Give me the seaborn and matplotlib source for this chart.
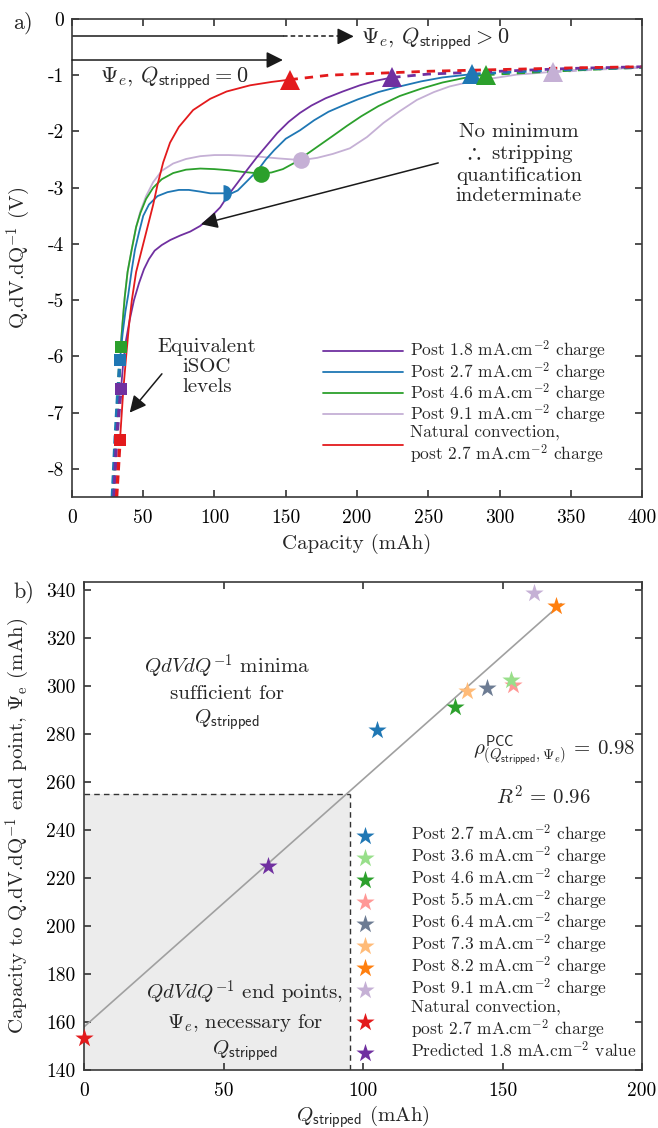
import numpy as np
import pandas as pd
import seaborn as sns
import matplotlib.pyplot as plt

# ---------------- panel a) data (read off the figure) ----------------
purple_x = [34.4, 36, 38, 40.5, 43.5, 47, 50.5, 54, 58, 63, 69, 76, 83, 90, 97, 104, 110,
            116, 123, 130, 137, 144, 152, 160, 168, 178, 190, 202, 213, 224.7]
purple_y = [-6.58, -6.1, -5.7, -5.35, -5.0, -4.7, -4.45, -4.27, -4.12, -4.02, -3.93, -3.85,
            -3.78, -3.68, -3.53, -3.35, -3.12, -2.92, -2.68, -2.45, -2.24, -2.03, -1.83,
            -1.67, -1.54, -1.41, -1.29, -1.18, -1.1, -1.04]

blue_x = [33.7, 35.5, 37.5, 39.5, 42, 44.2, 47, 50, 54, 60, 67, 75, 82, 90, 97, 105.7, 112,
          116.3, 123, 130.4, 136, 142, 150, 160, 170, 180, 190, 200.6, 215, 230, 245, 260, 281]
blue_y = [-6.06, -5.6, -5.2, -4.9, -4.45, -4.1, -3.8, -3.5, -3.3, -3.15, -3.08, -3.04, -3.04,
          -3.07, -3.1, -3.1, -3.1, -3.05, -2.88, -2.69, -2.5, -2.33, -2.13, -1.98, -1.8,
          -1.65, -1.54, -1.43, -1.3, -1.2, -1.11, -1.04, -0.98]

green_x = [34.2, 35.5, 37, 39, 41.9, 45, 48, 52, 57, 63, 71, 80, 90, 100, 110, 120, 132.7,
           140, 148, 156, 165, 174, 183, 193, 203, 215, 230, 245, 260, 277, 290.7]
green_y = [-5.83, -5.4, -4.95, -4.5, -4.1, -3.7, -3.45, -3.2, -3.0, -2.85, -2.74, -2.68,
           -2.66, -2.67, -2.69, -2.72, -2.75, -2.73, -2.67, -2.56, -2.4, -2.24, -2.08,
           -1.9, -1.73, -1.55, -1.37, -1.24, -1.13, -1.04, -0.99]

lav_x = [34, 35.5, 37, 39, 41.9, 45, 48, 52, 57, 63, 71, 80, 90, 100, 110, 120, 131.9, 145,
         161, 172, 183, 195, 207, 218.5, 230, 242, 254, 265, 277, 289, 312, 337.7]
lav_y = [-5.85, -5.4, -4.95, -4.5, -4.1, -3.7, -3.42, -3.15, -2.9, -2.7, -2.57, -2.49, -2.44,
         -2.42, -2.42, -2.43, -2.45, -2.48, -2.51, -2.47, -2.4, -2.3, -2.1, -1.85, -1.64,
         -1.44, -1.3, -1.2, -1.13, -1.08, -0.99, -0.94]

red_x = [33.7, 36, 38, 40, 42, 45, 49, 53, 57, 60, 64, 68.8, 75, 85, 97, 108.5, 125, 140, 152.7]
red_y = [-7.48, -6.6, -6.0, -5.45, -5.0, -4.5, -4.1, -3.7, -3.3, -2.95, -2.55, -2.2, -1.92,
         -1.62, -1.42, -1.29, -1.18, -1.12, -1.08]

# dashed continuation beyond the end point (triangle) and below the start point (square)
tail_hi = {
    "purple": ([224.7, 250, 300, 350, 400], [-1.04, -0.98, -0.93, -0.88, -0.85]),
    "blue": ([281, 320, 360, 400], [-0.98, -0.93, -0.89, -0.86]),
    "green": ([290.7, 320, 360, 400], [-0.99, -0.95, -0.9, -0.86]),
    "lav": ([337.7, 370, 400], [-0.94, -0.89, -0.86]),
    "red": ([152.7, 180, 210, 250, 300, 350, 400], [-1.08, -1.0, -0.97, -0.93, -0.9, -0.87, -0.85]),
}
tail_lo = {
    "green": ([28.8, 30.8, 32.5, 34.2], [-8.5, -7.5, -6.6, -5.83]),
    "purple": ([29.5, 31.2, 34.4], [-8.5, -7.5, -6.58]),
    "blue": ([28.3, 30.2, 32, 33.7], [-8.5, -7.5, -6.7, -6.06]),
    "red": ([31.3, 32.5, 33.7], [-8.5, -8.0, -7.48]),
}

start_pts = {"green": (34.2, -5.83), "blue": (33.7, -6.06), "purple": (34.4, -6.58), "red": (33.7, -7.48)}
end_pts = {"red": (152.7, -1.08), "purple": (224.7, -1.04), "blue": (281, -0.98),
           "green": (290.7, -0.99), "lav": (337.7, -0.94)}
min_pts = {"green": (132.7, -2.75), "lav": (161, -2.51)}
blue_min = (105.7, -3.1)

colors = {"purple": "#7030a0", "blue": "#1f77b4", "green": "#2ca02c",
          "lav": "#c5b0d5", "red": "#e31a1c"}
labels_a = {
    "purple": r"Post 1.8 mA.cm$^{-2}$ charge",
    "blue": r"Post 2.7 mA.cm$^{-2}$ charge",
    "green": r"Post 4.6 mA.cm$^{-2}$ charge",
    "lav": r"Post 9.1 mA.cm$^{-2}$ charge",
    "red": "Natural convection,\n" + r"post 2.7 mA.cm$^{-2}$ charge",
}
curves = {"purple": (purple_x, purple_y), "blue": (blue_x, blue_y), "green": (green_x, green_y),
          "lav": (lav_x, lav_y), "red": (red_x, red_y)}

# ---------------- panel b) data ----------------
q_stripped = [105, 152.9, 132.8, 153.7, 144.4, 137.1, 169.2, 161.4, 0, 65.9]
psi_e = [281.7, 302.8, 291.5, 300.7, 299.3, 298.1, 333.7, 338.9, 153.4, 224.9]
labels_b = [r"Post 2.7 mA.cm$^{-2}$ charge", r"Post 3.6 mA.cm$^{-2}$ charge",
            r"Post 4.6 mA.cm$^{-2}$ charge", r"Post 5.5 mA.cm$^{-2}$ charge",
            r"Post 6.4 mA.cm$^{-2}$ charge", r"Post 7.3 mA.cm$^{-2}$ charge",
            r"Post 8.2 mA.cm$^{-2}$ charge", r"Post 9.1 mA.cm$^{-2}$ charge",
            "Natural convection,\n" + r"post 2.7 mA.cm$^{-2}$ charge",
            r"Predicted 1.8 mA.cm$^{-2}$ value"]
colors_b = ["#1f77b4", "#98df8a", "#2ca02c", "#ff9896", "#6d7c93", "#ffbb78",
            "#ff7f0e", "#c5b0d5", "#e31a1c", "#7030a0"]
fit_x = [0, 171]
fit_y = [158, 334.5]
box_q, box_psi = 95.5, 255

# ---------------- style ----------------
sns.set_theme(style="ticks")
plt.rcParams.update({
    "font.family": "serif",
    "font.serif": ["cmr10", "DejaVu Serif"],
    "mathtext.fontset": "cm",
    "axes.unicode_minus": False,
    "axes.formatter.use_mathtext": False,
    "font.size": 14,
    "xtick.direction": "in", "ytick.direction": "in",
    "xtick.top": True, "ytick.right": True,
    "xtick.major.size": 5, "ytick.major.size": 5,
    "axes.edgecolor": "#3a3a3a", "axes.linewidth": 1.2,
    "xtick.color": "#3a3a3a", "ytick.color": "#3a3a3a",
    "xtick.labelcolor": "black", "ytick.labelcolor": "black",
})

fig = plt.figure(figsize=(6.58, 11.28), dpi=100)
ax1 = fig.add_axes([0.1094, 0.5594, 0.8663, 0.4238])
ax2 = fig.add_axes([0.1277, 0.0514, 0.848, 0.4326])

# ---------------- panel a) ----------------
handles = {}
for key in ["lav", "green", "blue", "purple", "red"]:
    xs, ys = curves[key]
    sns.lineplot(x=xs, y=ys, ax=ax1, color=colors[key], lw=1.3, sort=False,
                 estimator=None, label=labels_a[key])
    handles[key] = ax1.lines[-1]
    hx, hy = tail_hi[key]
    sns.lineplot(x=hx, y=hy, ax=ax1, color=colors[key], lw=2, sort=False,
                 estimator=None, linestyle=(0, (3, 2.5)))
    if key in tail_lo:
        lx, ly = tail_lo[key]
        sns.lineplot(x=lx, y=ly, ax=ax1, color=colors[key], lw=2.4, sort=False,
                     estimator=None, linestyle=(0, (2.5, 1.5)))

for key, (px, py) in start_pts.items():
    ax1.plot(px, py, marker="s", ms=9, color=colors[key], mew=0, zorder=5)
for key, (px, py) in end_pts.items():
    ax1.plot(px, py, marker="^", ms=14, color=colors[key], mew=0, zorder=5)
for key, (px, py) in min_pts.items():
    ax1.plot(px, py, marker="o", ms=12, color=colors[key], mew=0, zorder=5)
ax1.plot(*blue_min, marker="o", ms=12, color=colors["blue"], fillstyle="right",
         markerfacecoloralt="none", mew=0, zorder=5)

# arrows and annotations
ax1.plot([0, 148], [-0.31, -0.31], color="k", lw=1.1)
ax1.plot([148, 190], [-0.31, -0.31], color="k", lw=1.1, ls=(0, (3, 2)))
ax1.annotate("", xy=(199.7, -0.31), xytext=(188, -0.31),
             arrowprops=dict(arrowstyle="-|>", color="k", lw=1.1, mutation_scale=25))
ax1.annotate("", xy=(148, -0.73), xytext=(0, -0.73),
             arrowprops=dict(arrowstyle="-|>", color="k", lw=1.1, mutation_scale=25,
                             shrinkA=0, shrinkB=0))
ax1.text(203, -0.35, r"$\Psi_e$, $Q_\mathsf{stripped} > 0$", fontsize=16, va="center", ha="left")
ax1.text(20, -1.04, r"$\Psi_e$, $Q_\mathsf{stripped} = 0$", fontsize=16, va="center", ha="left")
ax1.annotate("", xy=(90.5, -3.65), xytext=(257, -2.56),
             arrowprops=dict(arrowstyle="-|>", color="k", lw=1.1, mutation_scale=25,
                             shrinkA=0, shrinkB=0))
ax1.text(313.6, -2.58, "No minimum\n" + r"$\therefore$ stripping" + "\nquantification\nindeterminate",
         fontsize=15, ha="center", va="center", linespacing=1.15)
ax1.text(94.6, -6.18, "Equivalent\niSOC\nlevels", fontsize=15, ha="center", va="center",
         linespacing=1.15)
ax1.annotate("", xy=(40.5, -7.0), xytext=(63.1, -6.31),
             arrowprops=dict(arrowstyle="-|>", color="k", lw=1.1, mutation_scale=25,
                             shrinkA=0, shrinkB=0))

ax1.set_xlim(0, 400)
ax1.set_ylim(-8.5, 0)
ax1.set_xticks(np.arange(0, 401, 50))
ax1.set_yticks(np.arange(-8, 1, 1))
ax1.tick_params(axis="x", pad=9, labelsize=14)
ax1.tick_params(axis="y", pad=6, labelsize=14)
ax1.set_xlabel("Capacity (mAh)", fontsize=15, labelpad=5)
ax1.set_ylabel(r"Q.dV.dQ$^{-1}$ (V)", fontsize=15, labelpad=10)
order = ["purple", "blue", "green", "lav", "red"]
ax1.legend([handles[k] for k in order], [labels_a[k] for k in order], loc="upper left",
           bbox_to_anchor=(0.44, 0.33), frameon=False, fontsize=12.5, handlelength=4.6,
           handletextpad=0.4, labelspacing=-0.12, borderpad=0, borderaxespad=0)

# ---------------- panel b) ----------------
ax2.fill_between([0, box_q], 140, box_psi, color="#ececec", zorder=0, lw=0)
ax2.plot([0, box_q], [box_psi, box_psi], color="#333333", lw=1, ls=(0, (4, 3)))
ax2.plot([box_q, box_q], [140, box_psi], color="#333333", lw=1, ls=(0, (4, 3)))
sns.lineplot(x=fit_x, y=fit_y, ax=ax2, color="#a0a0a0", lw=1.2, legend=False)

df_b = pd.DataFrame({"q": q_stripped, "psi": psi_e, "label": labels_b, "color": colors_b})
for i, row in df_b.iterrows():
    sns.scatterplot(x=[row.q], y=[row.psi], ax=ax2, marker="*", s=190, color=row.color,
                    linewidth=0, label=row.label, zorder=3 if i != 3 else 2.5, clip_on=False)

ax2.text(51.1, 297.5, r"$QdVdQ^{-1}$ minima" + "\nsufficient for\n" + r"$Q_\mathsf{stripped}$",
         fontsize=15, ha="center", va="center", linespacing=1.3)
ax2.text(197.7, 273.3, r"$\rho^{\mathsf{PCC}}_{(Q_\mathsf{stripped},\Psi_e)}$ = 0.98",
         fontsize=15, ha="right", va="center")
ax2.text(164.7, 254, r"$R^2$ = 0.96", fontsize=15, ha="center", va="center")
ax2.text(57.6, 160.5, r"$QdVdQ^{-1}$ end points," + "\n" + r"$\Psi_e$, necessary for" + "\n"
         + r"$Q_\mathsf{stripped}$", fontsize=15, ha="center", va="center", linespacing=1.3)

ax2.set_xlim(0, 200)
ax2.set_ylim(140, 343.5)
ax2.set_xticks(np.arange(0, 201, 50))
ax2.set_yticks(np.arange(140, 341, 20))
ax2.tick_params(axis="x", pad=9, labelsize=14)
ax2.tick_params(axis="y", pad=6, labelsize=14)
ax2.set_xlabel(r"$Q_\mathsf{stripped}$ (mAh)", fontsize=15, labelpad=2)
ax2.set_ylabel(r"Capacity to Q.dV.dQ$^{-1}$ end point, $\Psi_\mathrm{e}$ (mAh)", fontsize=15,
               labelpad=10)
ax2.legend(loc="upper left", bbox_to_anchor=(0.473, 0.507), frameon=False, fontsize=12.5,
           handlelength=2.0, handletextpad=1.65, labelspacing=-0.07, borderpad=0,
           borderaxespad=0, scatterpoints=1)

fig.text(0.035, 0.98, "a)", fontsize=16, ha="center", va="center")
fig.text(0.036, 0.475, "b)", fontsize=16, ha="center", va="center")

fig.savefig("out.png", dpi=100)
